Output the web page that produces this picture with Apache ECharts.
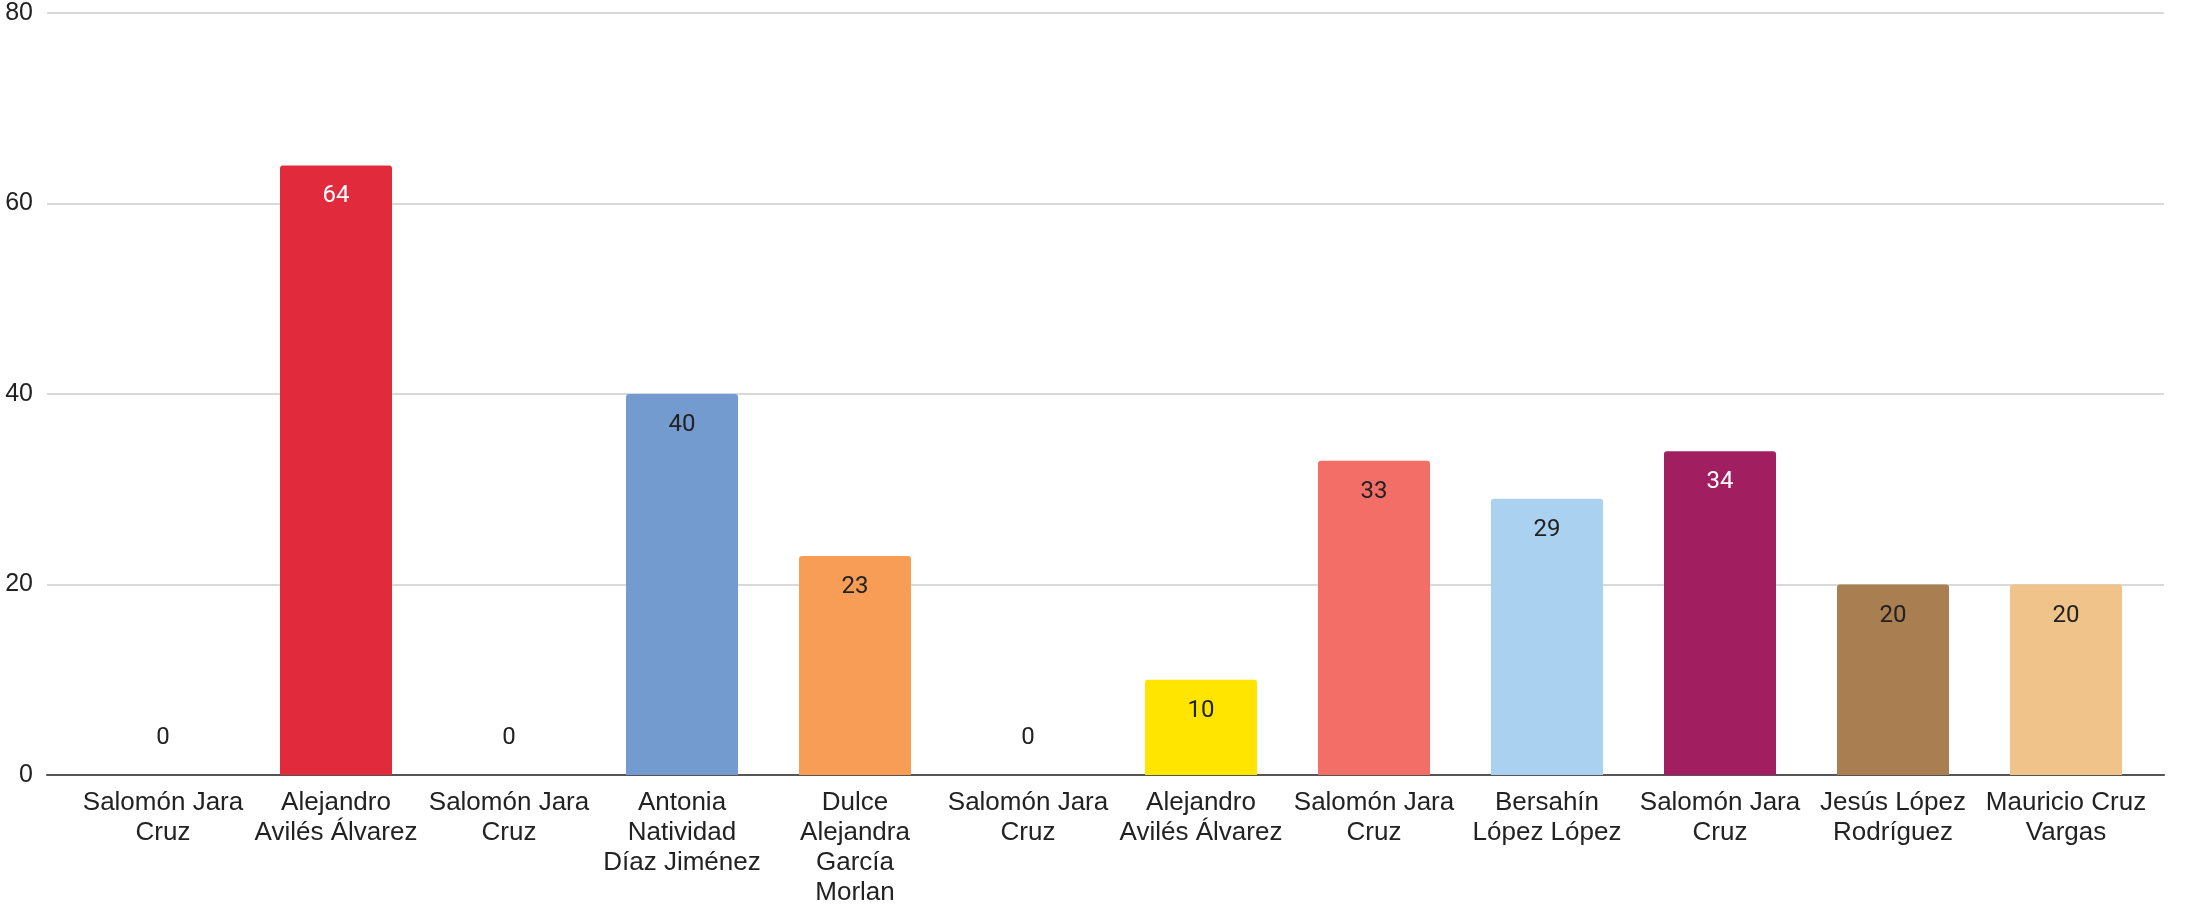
<!DOCTYPE html>
<html>
<head>
<meta charset="utf-8">
<script src="https://cdn.jsdelivr.net/npm/echarts@6/dist/echarts.min.js"></script>
<style>
  html, body { margin: 0; padding: 0; background: #fff; }
  #chart-container { width: 2185px; height: 908px; }
</style>
</head>
<body>
<div id="chart-container"></div>
<script>
// data
const candidates = [
  "Salomón Jara\nCruz",
  "Alejandro\nAvilés Álvarez",
  "Salomón Jara\nCruz",
  "Antonia\nNatividad\nDíaz Jiménez",
  "Dulce\nAlejandra\nGarcía\nMorlan",
  "Salomón Jara\nCruz",
  "Alejandro\nAvilés Álvarez",
  "Salomón Jara\nCruz",
  "Bersahín\nLópez López",
  "Salomón Jara\nCruz",
  "Jesús López\nRodríguez",
  "Mauricio Cruz\nVargas",
];
const values = [0, 64, 0, 40, 23, 0, 10, 33, 29, 34, 20, 20];
const barColors = [
  "#cccccc", "#e12b3d", "#cccccc", "#739bd0", "#f89d55", "#cccccc",
  "#ffe500", "#f36e67", "#abd1f1", "#a11f61", "#a97e50", "#efc389",
];
const yTicks = { min: 0, max: 80, interval: 20 };

// dark bars get white labels
const lightLabelOn = new Set(["#e12b3d", "#a11f61"]);

function buildOption() {
  const data = values.map((v, i) => ({
    value: v,
    itemStyle: { color: barColors[i], borderRadius: [3, 3, 0, 0] },
    label:
      v === 0
        ? { position: "top", distance: 25, color: "#222" }
        : {
            position: "insideTop",
            distance: 19,
            color: lightLabelOn.has(barColors[i]) ? "#fff" : "#222",
          },
  }));

  return {
    animation: false,
    backgroundColor: "#fff",
    grid: [
      // gridlines + zero line, full width like the original
      { left: 47, right: 21, top: 13, bottom: 133 },
      // bars
      { left: 76.5, right: 32.5, top: 13, bottom: 133 },
    ],
    xAxis: [
      {
        gridIndex: 0,
        type: "category",
        data: [""],
        axisLine: { show: true, lineStyle: { color: "#555", width: 2 } },
        axisTick: { show: false },
        axisLabel: { show: false },
      },
      {
        gridIndex: 1,
        type: "category",
        data: candidates,
        axisLine: { show: false },
        axisTick: { show: false },
        axisLabel: {
          interval: 0,
          margin: 13,
          color: "#222",
          fontFamily: "Liberation Sans, Arial, sans-serif",
          fontSize: 26,
          lineHeight: 30,
          align: "center",
        },
      },
    ],
    yAxis: [
      {
        gridIndex: 0,
        type: "value",
        ...yTicks,
        axisLine: { show: false },
        axisTick: { show: false },
        splitLine: { lineStyle: { color: "#cccccc", width: 1.5 } },
        axisLabel: {
          margin: 14,
          color: "#222",
          fontFamily: "Liberation Sans, Arial, sans-serif",
          fontSize: 25,
        },
      },
      {
        gridIndex: 1,
        type: "value",
        ...yTicks,
        show: false,
        splitLine: { show: false },
      },
    ],
    series: [
      {
        type: "bar",
        xAxisIndex: 1,
        yAxisIndex: 1,
        barWidth: 112,
        data,
        label: {
          show: true,
          fontFamily: "Roboto, sans-serif",
          fontSize: 24,
        },
      },
    ],
  };
}

const dom = document.getElementById("chart-container");
const chart = echarts.init(dom, null, { renderer: "canvas" });
chart.setOption(buildOption());
window.addEventListener("resize", () => chart.resize());
</script>
</body>
</html>
